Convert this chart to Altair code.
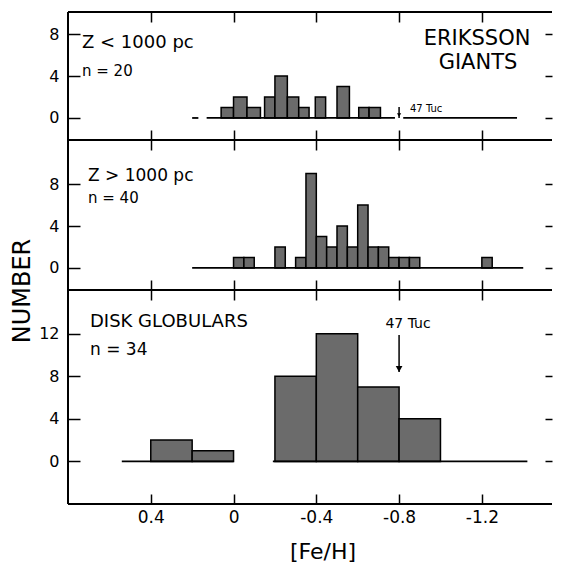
import altair as alt
import pandas as pd

# ---------------- values ----------------
x_ticks = [0.4, 0.0, -0.4, -0.8, -1.2]

# Panel 1: Eriksson giants, Z < 1000 pc (n = 20)
p1_left = [0.06, 0.0, -0.065, -0.15, -0.2, -0.26, -0.315, -0.395, -0.5, -0.605, -0.655]
p1_right = [0.0, -0.065, -0.13, -0.2, -0.26, -0.315, -0.365, -0.445, -0.56, -0.655, -0.71]
p1_count = [1, 2, 1, 2, 4, 2, 1, 2, 3, 1, 1]
p1_base_start = [0.2, 0.13, -0.82]
p1_base_end = [0.17, -0.78, -1.37]
p1_yticks = [0, 4, 8]

# Panel 2: Eriksson giants, Z > 1000 pc (n = 40)
p2_left = [0.0, -0.05, -0.2, -0.3, -0.35, -0.4, -0.45, -0.5, -0.55, -0.6, -0.65, -0.7, -0.75, -0.8, -0.85, -1.2]
p2_right = [-0.05, -0.1, -0.25, -0.35, -0.4, -0.45, -0.5, -0.55, -0.6, -0.65, -0.7, -0.75, -0.8, -0.85, -0.9, -1.25]
p2_count = [1, 1, 2, 1, 9, 3, 2, 4, 2, 6, 2, 2, 1, 1, 1, 1]
p2_base_start = [0.2]
p2_base_end = [-1.4]
p2_yticks = [0, 4, 8]

# Panel 3: disk globulars (n = 34)
p3_left = [0.4, 0.2, -0.2, -0.4, -0.6, -0.8]
p3_right = [0.2, 0.0, -0.4, -0.6, -0.8, -1.0]
p3_count = [2, 1, 8, 12, 7, 4]
p3_base_start = [0.54, -0.19]
p3_base_end = [0.0, -1.42]
p3_yticks = [0, 4, 8, 12]

tuc_feh = [-0.8]

# ---------------- styling ----------------
FONT = "DejaVu Sans"
W = 484
XDOM = [0.8, -1.539]
BAR_FILL = "#6b6b6b"


def make_panel(left, right, count, bstart, bend, yticks, ydom, height,
               texts, tuc_arrow, show_xlabels):
    xs = alt.Scale(domain=XDOM, nice=False, zero=False)
    ys = alt.Scale(domain=ydom, nice=False, zero=False)
    bars_df = pd.DataFrame({"left": left, "right": right, "count": count})
    base_df = pd.DataFrame({"start": bstart, "end": bend, "zero": [0] * len(bstart)})

    x_bottom = alt.Axis(orient="bottom", values=x_ticks, offset=-10, tickSize=10,
                        domain=False, grid=False, labels=show_xlabels, title=None,
                        tickColor="black", tickWidth=1.5, labelFont=FONT,
                        labelFontSize=17, labelColor="black", labelPadding=5,
                        labelExpr="replace(format(datum.value, '.1~f'), '\u2212', '-')")
    x_top = alt.Axis(orient="top", values=x_ticks, offset=-10, tickSize=10,
                     domain=False, grid=False, labels=False, title=None,
                     tickColor="black", tickWidth=1.5)
    y_left = alt.Axis(orient="left", values=yticks, offset=-12, tickSize=12,
                      domain=False, grid=False, title=None, tickColor="black",
                      tickWidth=1.5, labelFont=FONT, labelFontSize=16,
                      labelColor="black", labelPadding=9, format="d")
    y_right = alt.Axis(orient="right", values=yticks, offset=-7, tickSize=7,
                       domain=False, grid=False, labels=False, title=None,
                       tickColor="black", tickWidth=1.5)

    bars = alt.Chart(bars_df).mark_rect(fill=BAR_FILL, stroke="black", strokeWidth=1.5).encode(
        x=alt.X("left:Q", scale=xs, axis=x_bottom),
        x2="right:Q",
        y=alt.Y("count:Q", scale=ys, axis=y_left),
        y2=alt.datum(0),
    )
    base = alt.Chart(base_df).mark_rule(color="black", strokeWidth=1.8).encode(
        x=alt.X("start:Q", scale=xs, axis=x_top),
        x2="end:Q",
        y=alt.Y("zero:Q", scale=ys, axis=y_right),
    )
    one = pd.DataFrame({"a": [0]})
    frame = [
        alt.Chart(one).mark_rule(color="black", strokeWidth=2).encode(
            x=alt.value(0), x2=alt.value(W), y=alt.value(0)),
        alt.Chart(one).mark_rule(color="black", strokeWidth=2).encode(
            x=alt.value(0), x2=alt.value(W), y=alt.value(height)),
        alt.Chart(one).mark_rule(color="black", strokeWidth=2).encode(
            x=alt.value(0), y=alt.value(0), y2=alt.value(height)),
    ]
    layers = [bars, base] + frame

    for t in texts:
        df = pd.DataFrame({"label": [t["text"]]})
        layers.append(
            alt.Chart(df).mark_text(font=FONT, fontSize=t["size"], align=t.get("align", "left"),
                                    baseline="middle", color="black",
                                    angle=t.get("angle", 0)).encode(
                text="label:N", x=alt.value(t["x"]), y=alt.value(t["y"]))
        )

    if tuc_arrow is not None:
        tdf = pd.DataFrame({"feh": tuc_feh})
        y0, y1, head = tuc_arrow
        layers.append(
            alt.Chart(tdf).mark_rule(color="black", strokeWidth=1.5).encode(
                x=alt.X("feh:Q", scale=xs, axis=None),
                y=alt.value(y0), y2=alt.value(y1))
        )
        layers.append(
            alt.Chart(tdf).mark_point(shape="triangle-down", filled=True, color="black",
                                      size=head, opacity=1).encode(
                x=alt.X("feh:Q", scale=xs, axis=None),
                y=alt.value(y1 - 3))
        )

    return alt.layer(*layers).resolve_axis(x="independent", y="independent").properties(
        width=W, height=height)


p1 = make_panel(p1_left, p1_right, p1_count, p1_base_start, p1_base_end, p1_yticks,
                [-2.1, 10.1], 128,
                [dict(text="Z < 1000 pc", x=14, y=31, size=18),
                 dict(text="n = 20", x=14, y=59, size=15),
                 dict(text="ERIKSSON", x=409, y=27, size=21, align="center"),
                 dict(text="GIANTS", x=410, y=51, size=21, align="center"),
                 dict(text="47 Tuc", x=342, y=97, size=10)],
                (95, 106, 18), False)

p2 = make_panel(p2_left, p2_right, p2_count, p2_base_start, p2_base_end, p2_yticks,
                [-2.1, 12.2], 150,
                [dict(text="Z > 1000 pc", x=20, y=36, size=17),
                 dict(text="n =  40", x=20, y=58, size=15),
                 dict(text="NUMBER", x=-45, y=151, size=24, align="center", angle=270)],
                None, False)

p3 = make_panel(p3_left, p3_right, p3_count, p3_base_start, p3_base_end, p3_yticks,
                [-4.0, 16.1], 214,
                [dict(text="DISK GLOBULARS", x=22, y=32, size=18),
                 dict(text="n = 34", x=22, y=60, size=17),
                 dict(text="47 Tuc", x=340, y=34, size=14, align="center"),
                 dict(text="[Fe/H]", x=255, y=262, size=22, align="center")],
                (45, 82, 45), True)

chart = alt.vconcat(p1, p2, p3, spacing=0, bounds="flush").resolve_scale(
    x="independent", y="independent"
).properties(
    padding={"left": 3, "top": 3, "right": 0, "bottom": 0}
).configure_view(stroke=None).configure_concat(spacing=0)

chart.save("out.html", embed_options={"renderer": "svg", "actions": False})
